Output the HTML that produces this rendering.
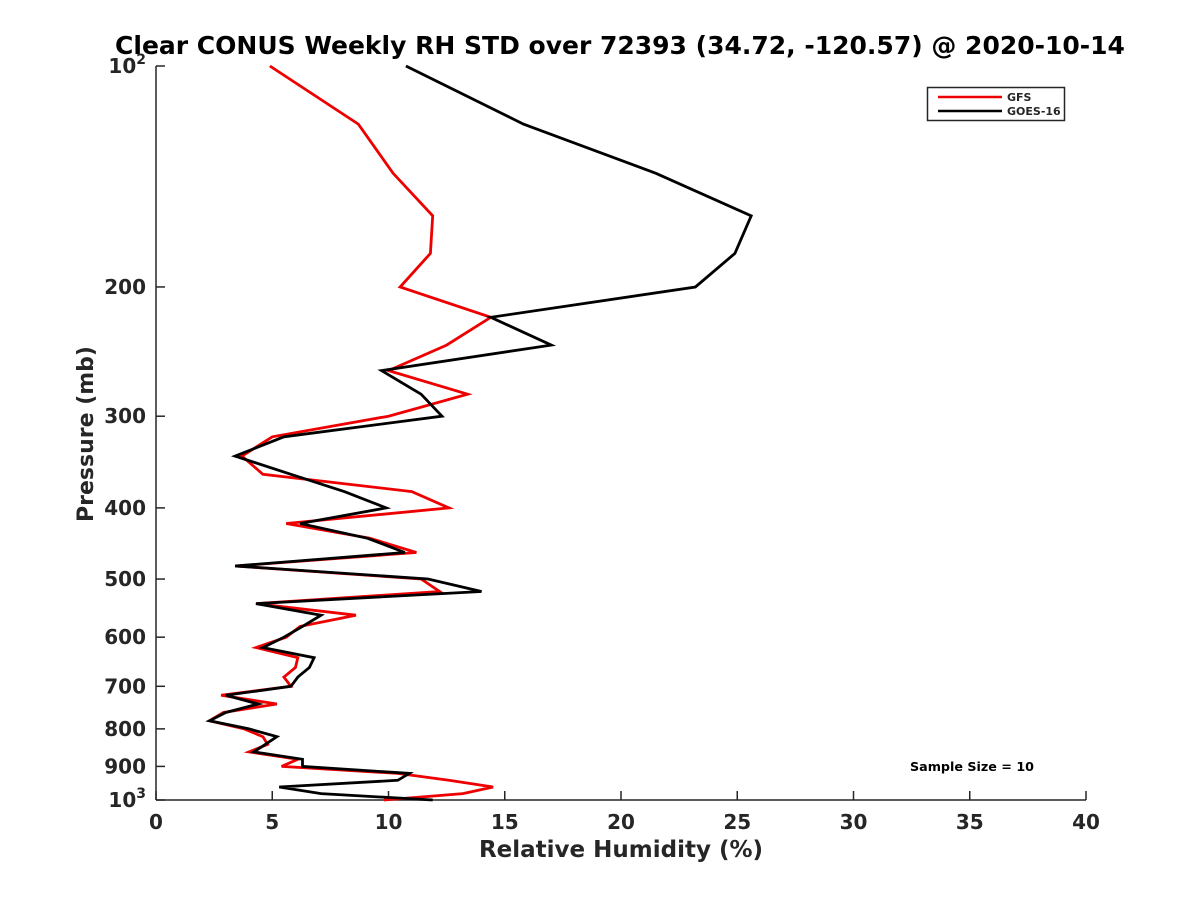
<!DOCTYPE html>
<html><head><meta charset="utf-8"><style>
html,body{margin:0;padding:0;background:#fff;}
svg text{font-family:"DejaVu Sans","Liberation Sans",sans-serif;font-weight:bold;fill:#262626;}
</style></head><body>
<svg id="chart" width="1200" height="900" xmlns="http://www.w3.org/2000/svg">
<rect width="1200" height="900" fill="#fff"/>
<text x="620" y="54" text-anchor="middle" font-size="25" style="fill:#000">Clear CONUS Weekly RH STD over 72393 (34.72, -120.57) @ 2020-10-14</text>
<g id="axes"></g>
<g id="series"></g>
<g>
<rect x="927.5" y="87.5" width="137" height="33" fill="#fff" stroke="#262626" stroke-width="1.5"/>
<line x1="938" y1="97" x2="1002" y2="97" stroke="#e00" stroke-width="2.5"/>
<text x="1007" y="101" font-size="11">GFS</text>
<line x1="938" y1="111" x2="1002" y2="111" stroke="#000" stroke-width="2.5"/>
<text x="1007" y="115" font-size="11">GOES-16</text>
</g>
<text x="972" y="771" text-anchor="middle" font-size="12.7" style="fill:#000">Sample Size = 10</text>
<text x="621" y="857" text-anchor="middle" font-size="23">Relative Humidity (%)</text>
<text transform="translate(93,434) rotate(-90)" text-anchor="middle" font-size="22">Pressure (mb)</text>
</svg>
<script>
const pressures = [100,120,140,160,180,200,220,240,260,280,300,320,340,360,380,400,420,440,460,480,500,520,540,560,580,600,620,640,660,680,700,720,740,760,780,800,820,840,860,880,900,920,940,960,980,1000];
const goesValues = [10.75,15.8,21.5,25.6,24.9,23.2,14.4,17.0,9.7,11.4,12.3,5.5,3.4,5.8,8.1,9.9,6.2,9.1,10.7,3.4,11.7,14.0,4.3,7.1,6.3,5.5,4.6,6.8,6.6,6.1,5.8,3.0,4.4,3.0,2.3,4.0,5.2,4.7,4.2,6.3,6.3,10.9,10.4,5.3,7.1,11.9];
const gfsValues = [4.9,8.7,10.2,11.9,11.8,10.5,14.4,12.5,10.0,13.4,10.0,5.0,3.7,4.6,11.0,12.6,5.6,9.2,11.2,3.4,11.4,12.2,4.3,8.6,6.2,5.6,4.3,6.1,6.0,5.5,5.8,2.8,5.2,2.9,2.3,3.8,4.6,4.8,4.0,6.1,5.4,10.4,12.6,14.5,13.2,9.8];
const xTicks = [0,5,10,15,20,25,30,35,40];
const yTicks = [100,200,300,400,500,600,700,800,900,1000];
const yTickLabels = ["10^2","200","300","400","500","600","700","800","900","10^3"];

const X0=156,X1=1086,Y0=66,Y1=800;
const xs = v => X0 + (v-0)/(40-0)*(X1-X0);
const ys = p => Y0 + (Math.log10(p)-2)*(Y1-Y0);
const NS="http://www.w3.org/2000/svg";
const axes=document.getElementById('axes'), series=document.getElementById('series');
function mk(tag,attrs,parent){const e=document.createElementNS(NS,tag);for(const k in attrs)e.setAttribute(k,attrs[k]);parent.appendChild(e);return e;}

const yAxis=mk('line',{x1:X0,y1:Y0,x2:X0,y2:Y1,stroke:'#262626','stroke-width':1.5},axes);


const xAxis=mk('line',{x1:X0,y1:Y1,x2:X1,y2:Y1,stroke:'#262626','stroke-width':1.5},axes);



xTicks.forEach(v=>{
  const x=xs(v);
  const t=mk('line',{x1:x,y1:Y1,x2:x,y2:Y1-9,stroke:'#262626','stroke-width':1.5},axes);
  
  
  const l=mk('text',{x:x,y:Y1+29,'text-anchor':'middle','font-size':20},axes);
  l.textContent=v;
  
  
});
yTicks.forEach((p,i)=>{
  const y=ys(p);
  const t=mk('line',{x1:X0,y1:y,x2:X0+9,y2:y,stroke:'#262626','stroke-width':1.5},axes);
  
  
  const l=mk('text',{x:X0-10,y:y+7,'text-anchor':'end','font-size':20},axes);
  const lab=yTickLabels[i];
  if(lab.indexOf('^')>0){
    const [b,e]=lab.split('^');
    l.textContent=b;
    const s=mk('tspan',{dy:-9,'font-size':14},l);
    s.textContent=e;
  } else l.textContent=lab;
  
  
});

function drawLine(vals,color,name){
  const pts=vals.map((v,i)=>xs(v).toFixed(1)+','+ys(pressures[i]).toFixed(1)).join(' ');
  const pl=mk('polyline',{points:pts,fill:'none',stroke:color,'stroke-width':2.8,'stroke-linejoin':'miter'},series);
  
  
}
drawLine(gfsValues,'#e00','gfs-line');
drawLine(goesValues,'#000','goes16-line');
</script>
</body></html>
